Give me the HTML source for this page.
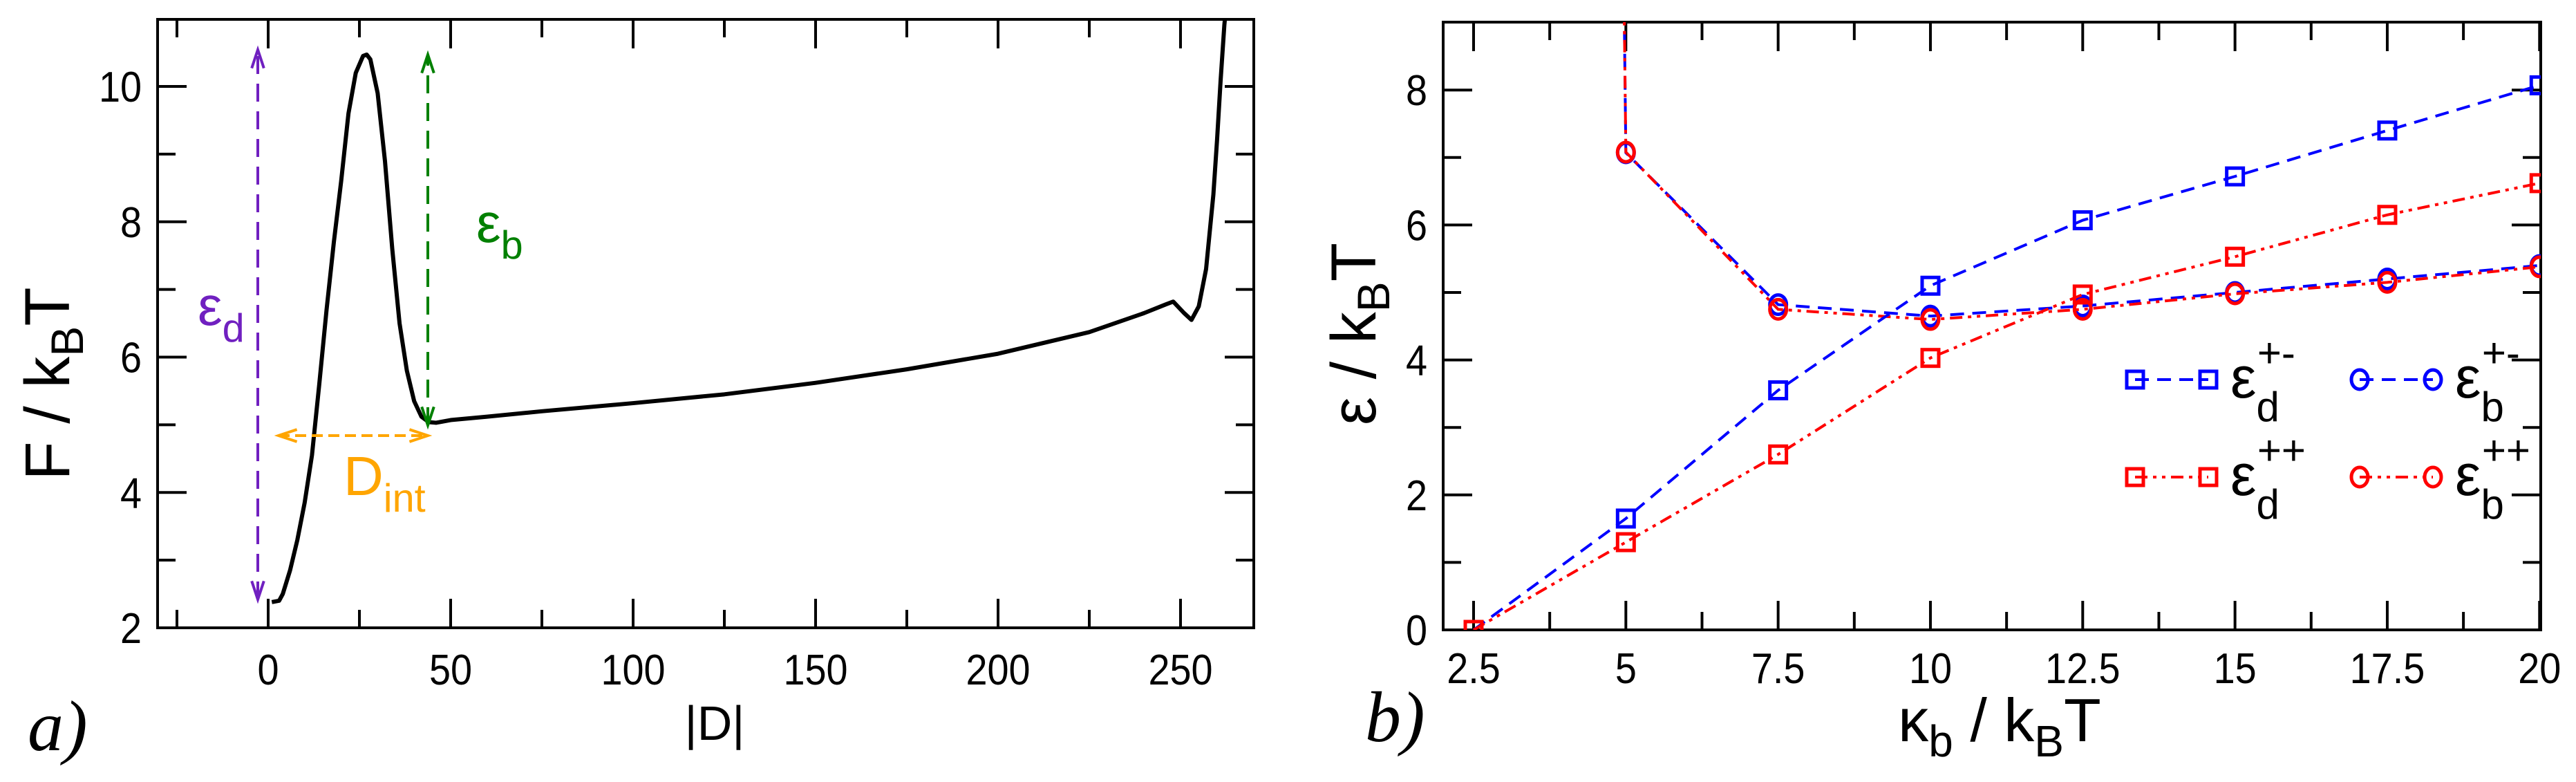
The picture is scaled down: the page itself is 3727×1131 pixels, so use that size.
<!DOCTYPE html>
<html><head><meta charset="utf-8">
<style>
html,body{margin:0;padding:0;background:#fff;}
svg{display:block;font-family:"Liberation Sans",sans-serif;}
</style></head>
<body>
<svg id="fig" width="3727" height="1131" viewBox="0 0 3727 1131" xmlns="http://www.w3.org/2000/svg">
<defs></defs>
<g id="left"></g>
<g id="right"></g>
</svg>
<script>
// ---- Panel a data ----
const curveD = [1,3,4,6,8,10,12,14,16,18,20,22,24,26,27,28,30,32,34,36,38,40,42,44,46,50,60,75,100,125,150,175,200,225,240,246,248,251,253,255,257,259,260,261,262,263];
const curveF = [2.38,2.4,2.5,2.85,3.3,3.85,4.55,5.6,6.7,7.7,8.6,9.6,10.2,10.45,10.47,10.4,9.9,8.9,7.6,6.5,5.8,5.35,5.12,5.04,5.03,5.07,5.12,5.2,5.32,5.45,5.62,5.82,6.05,6.37,6.65,6.78,6.82,6.65,6.55,6.75,7.3,8.4,9.2,10.1,10.9,11.5];
const leftXTicks = [0,50,100,150,200,250];
const leftYTicks = [2,4,6,8,10];
// ---- Panel b data ----
const kappa = [2.5,5,7.5,10,12.5,15,17.5,20];
const epsDpm = [0,1.65,3.55,5.1,6.07,6.72,7.4,8.07];
const epsDpp = [0,1.3,2.6,4.03,4.97,5.53,6.15,6.62];
const epsBpm = [200,7.07,4.82,4.65,4.8,5.0,5.2,5.4];
const epsBpp = [200,7.08,4.75,4.6,4.75,4.98,5.15,5.38];
const rightXTicks = [2.5,5,7.5,10,12.5,15,17.5,20];
const rightXTickLabels = ["2.5","5","7.5","10","12.5","15","17.5","20"];
const rightYTicks = [0,2,4,6,8];

const NS="http://www.w3.org/2000/svg";
function mk(parent,tag,attrs,text){const e=document.createElementNS(NS,tag);for(const k in attrs)e.setAttribute(k,attrs[k]);if(text!==undefined)e.textContent=text;parent.appendChild(e);return e;}
function tickText(g,x,y,anchor,str,name){
 const t=mk(g,'text',{x:0,y:0,'font-size':62,'text-anchor':anchor,transform:`translate(${x},${y}) scale(0.9,1)`},str);
 
 
 return t;}

// ---------- Panel a ----------
const L=document.getElementById('left');
const aL=228,aR=1814,aT=28,aB=908;
const ax=v=>388+(v)*5.28;
const ay=v=>aB-(v-2)*97.875;
function frame(g,l,t,r,b){const f=mk(g,'rect',{x:l,y:t,width:r-l,height:b-t,fill:'none',stroke:'#000','stroke-width':4});

}
const clipA=mk(document.querySelector('defs'),'clipPath',{id:'clipA'});mk(clipA,'rect',{x:aL,y:aT,width:aR-aL,height:aB-aT});
for(let v=-25;v<=270;v+=25){const X=ax(v);if(X<aL+2||X>aR-2)continue;const len=(v%50===0)?42:26;
 const t1=mk(L,'line',{x1:X,y1:aB,x2:X,y2:aB-len,stroke:'#000','stroke-width':4});
 
 
 const t2=mk(L,'line',{x1:X,y1:aT,x2:X,y2:aT+len,stroke:'#000','stroke-width':4});
 
 }
for(let v=3;v<=11;v+=1){const Y=ay(v);if(Y<aT+2)continue;const len=(v%2===0)?42:26;
 const t1=mk(L,'line',{x1:aL,y1:Y,x2:aL+len,y2:Y,stroke:'#000','stroke-width':4});
 
 
 const t2=mk(L,'line',{x1:aR,y1:Y,x2:aR-len,y2:Y,stroke:'#000','stroke-width':4});
 
 }
leftXTicks.forEach(v=>tickText(L,ax(v),990,'middle',String(v),'x-tick-label'));
leftYTicks.forEach(v=>tickText(L,205,ay(v)+22,'end',String(v),'y-tick-label'));
frame(L,aL,aT,aR,aB);
const cp=mk(L,'polyline',{points:curveD.map((d,i)=>ax(d)+','+ay(curveF[i])).join(' '),fill:'none',stroke:'#000','stroke-width':6,'stroke-linejoin':'round','clip-path':'url(#clipA)'});


function arrow(g,x1,y1,x2,y2,col,dash,name,both){
 const ln=mk(g,'line',{x1,y1,x2,y2,stroke:col,'stroke-width':4,'stroke-dasharray':dash});
 
 
 const head=(xt,yt,xf,yf)=>{const a=Math.atan2(yt-yf,xt-xf);const s=28,w=0.32;
  mk(g,'polyline',{points:`${xt-s*Math.cos(a-w)},${yt-s*Math.sin(a-w)} ${xt},${yt} ${xt-s*Math.cos(a+w)},${yt-s*Math.sin(a+w)}`,fill:'none',stroke:col,'stroke-width':4});};
 head(x2,y2,x1,y1);if(both)head(x1,y1,x2,y2);}
arrow(L,373,867,373,72,'#7020c0','26 14','epsilon-d-arrow',true);
arrow(L,619,615,619,79,'#008000','26 14','epsilon-b-arrow',true);
arrow(L,403,630,619,630,'#ffa500','16 8','d-int-arrow',true);
function lab(g,x,y,main,sub,col,name,fs){const t=mk(g,'text',{x,y,'font-size':fs||80,fill:col});
 
 
 mk(t,'tspan',{},main);mk(t,'tspan',{'font-size':(fs||80)*0.72,dy:(fs||80)*0.3},sub);return t;}
lab(L,286,470,'ε','d','#7020c0','epsilon-d-label');
lab(L,689,350,'ε','b','#008000','epsilon-b-label');
lab(L,497,716,'D','int','#ffa500','d-int-label');
const yl=mk(L,'text',{x:0,y:0,'font-size':92,'text-anchor':'middle',transform:'translate(100,555) rotate(-90)'});


mk(yl,'tspan',{},'F / k');mk(yl,'tspan',{'font-size':66,dy:20},'B');mk(yl,'tspan',{dy:-20},'T');
const xl=mk(L,'text',{x:1034,y:1070,'font-size':70,'text-anchor':'middle'},'|D|');


const pa=mk(L,'text',{x:40,y:1085,'font-size':104,'font-style':'italic','font-family':'Liberation Serif, serif'},'a)');



// ---------- Panel b ----------
const R=document.getElementById('right');
const bL=2088,bR=3676,bT=32,bB=911;
const bx=v=>2132+(v-2.5)*88.13;
const by=v=>bB-v*97.6;
const clipB=mk(document.querySelector('defs'),'clipPath',{id:'clipB'});mk(clipB,'rect',{x:bL,y:bT,width:bR-bL,height:bB-bT});
for(let v=2.5;v<=20.01;v+=1.25){const X=bx(v);const major=Math.abs((v/2.5)-Math.round(v/2.5))<1e-6;const len=major?42:26;
 const t1=mk(R,'line',{x1:X,y1:bB,x2:X,y2:bB-len,stroke:'#000','stroke-width':4});
 
 
 const t2=mk(R,'line',{x1:X,y1:bT,x2:X,y2:bT+len,stroke:'#000','stroke-width':4});
 
 }
for(let v=1;v<=8;v+=1){const Y=by(v);const len=(v%2===0)?42:26;
 const t1=mk(R,'line',{x1:bL,y1:Y,x2:bL+len,y2:Y,stroke:'#000','stroke-width':4});
 
 
 const t2=mk(R,'line',{x1:bR,y1:Y,x2:bR-len,y2:Y,stroke:'#000','stroke-width':4});
 
 }
rightXTicks.forEach((v,i)=>tickText(R,bx(v),988,'middle',rightXTickLabels[i],'x-tick-label'));
rightYTicks.forEach(v=>tickText(R,2065,by(v)+22,'end',String(v),'y-tick-label'));
frame(R,bL,bT,bR,bB);
const DASH='20 12', DDOT='18 8 5 8 5 8';
function series(vals,col,dash,marker,name){
 const g=mk(R,'g',{'clip-path':'url(#clipB)'});
 
 
 mk(g,'polyline',{points:kappa.map((k,i)=>bx(k)+','+by(vals[i])).join(' '),fill:'none',stroke:col,'stroke-width':4,'stroke-dasharray':dash});
 kappa.forEach((k,i)=>{const X=bx(k),Y=by(vals[i]);if(Y<bT)return;
  let m;
  if(marker==='sq'){m=mk(g,'rect',{x:X-12,y:Y-12,width:24,height:24,fill:'none',stroke:col,'stroke-width':5});}
  else{m=mk(g,'ellipse',{cx:X,cy:Y,rx:12,ry:14,fill:'none',stroke:col,'stroke-width':5});}
  
  });}
series(epsBpm,'#0000ff',DASH,'ci','eps-b-pm-series');
series(epsBpp,'#ff0000',DDOT,'ci','eps-b-pp-series');
series(epsDpm,'#0000ff',DASH,'sq','eps-d-pm-series');
series(epsDpp,'#ff0000',DDOT,'sq','eps-d-pp-series');
function leg(x,y,col,dash,marker,sub,sup,name){
 const g=mk(R,'g',{});
 
 
 mk(g,'line',{x1:x,y1:y,x2:x+106,y2:y,stroke:col,'stroke-width':4,'stroke-dasharray':dash});
 [x,x+106].forEach(X=>{if(marker==='sq')mk(g,'rect',{x:X-12,y:y-12,width:24,height:24,fill:'none',stroke:col,'stroke-width':5});
  else mk(g,'ellipse',{cx:X,cy:y,rx:12,ry:14,fill:'none',stroke:col,'stroke-width':5});});
 const t=mk(g,'text',{x:x+138,y:y+26,'font-size':84});
 mk(t,'tspan',{},'ε');mk(t,'tspan',{'font-size':60,dy:34},sub);mk(t,'tspan',{'font-size':60,dx:-32,dy:-78},sup);}
leg(3089,549,'#0000ff',DASH,'sq','d','+-','legend-eps-d-pm');
leg(3414,549,'#0000ff',DASH,'ci','b','+-','legend-eps-b-pm');
leg(3089,690,'#ff0000',DDOT,'sq','d','++','legend-eps-d-pp');
leg(3414,690,'#ff0000',DDOT,'ci','b','++','legend-eps-b-pp');
const yr=mk(R,'text',{x:0,y:0,'font-size':92,'text-anchor':'middle',transform:'translate(1990,483) rotate(-90)'});


mk(yr,'tspan',{},'ε / k');mk(yr,'tspan',{'font-size':66,dy:20},'B');mk(yr,'tspan',{dy:-20},'T');
const xr=mk(R,'text',{x:2893,y:1072,'font-size':88,'text-anchor':'middle'});


mk(xr,'tspan',{},'κ');mk(xr,'tspan',{'font-size':64,dy:22},'b');mk(xr,'tspan',{dy:-22},' / k');mk(xr,'tspan',{'font-size':64,dy:22},'B');mk(xr,'tspan',{dy:-22},'T');
const pb=mk(R,'text',{x:1975,y:1072,'font-size':104,'font-style':'italic','font-family':'Liberation Serif, serif'},'b)');


</script>
</body></html>
